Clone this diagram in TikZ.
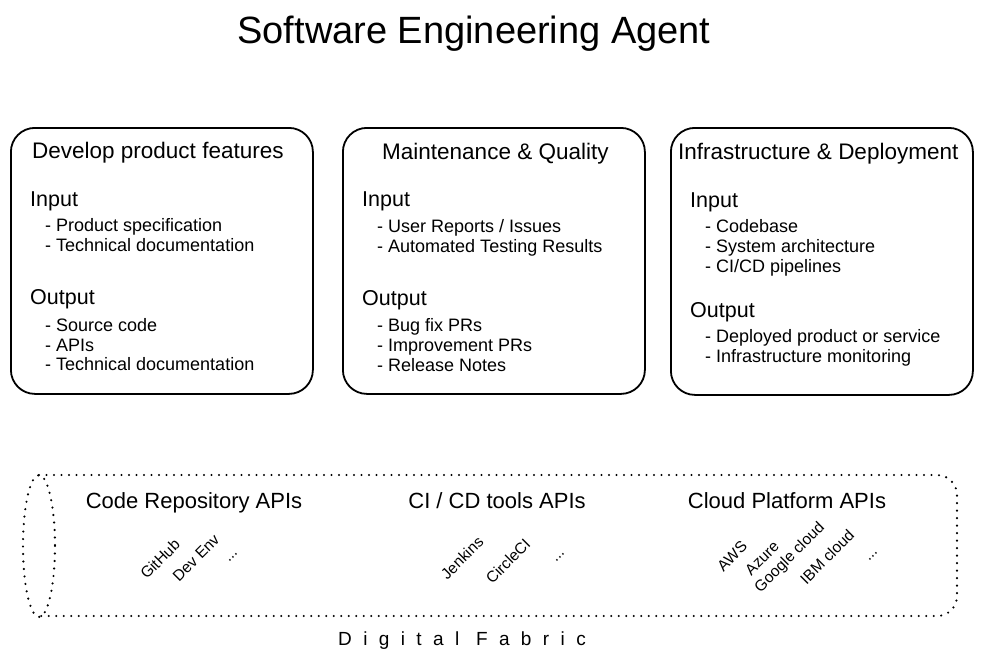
\documentclass[tikz,border=0pt]{standalone}
\usepackage{fontspec}
\setmainfont{Liberation Sans}
\begin{document}
\begin{tikzpicture}[x=1pt,y=-1pt,
  card/.style={draw, line width=1.8pt, rounded corners=24pt, minimum width=302pt, minimum height=266pt, anchor=north west, inner sep=0pt},
  maintitle/.style={anchor=base, font=\fontsize{38}{44}\selectfont, inner sep=0pt},
  cardtitle/.style={anchor=base west, font=\fontsize{22.5}{26}\selectfont, inner sep=0pt},
  head/.style={anchor=base west, font=\fontsize{21.5}{25}\selectfont, inner sep=0pt},
  item/.style={anchor=base west, font=\fontsize{18}{21}\selectfont, inner sep=0pt},
  api/.style={anchor=base, font=\fontsize{22}{26}\selectfont, inner sep=0pt},
  tool/.style={anchor=center, font=\fontsize{15.5}{18}\selectfont, inner sep=0pt, rotate=45},
  fabricline/.style={line width=2.4pt, dash pattern=on 0pt off 7.5pt, line cap=round},
  fabriclabel/.style={anchor=base, font=\fontsize{19}{22}\selectfont\addfontfeatures{LetterSpace=60}, inner sep=0pt}
]
\useasboundingbox (0,0) rectangle (982,662);

\node[maintitle] (title) at (474,43) {Software Engineering Agent};

% Card 1
\node[card] (c1) at (10,127) {};
\node[cardtitle] (c1t) at (32,158) {Develop product features};
\node[head] (c1in) at (30,206) {Input};
\node[item] (c1i1) at (45,231) {- Product specification};
\node[item] (c1i2) at (45,251) {- Technical documentation};
\node[head] (c1out) at (30,304) {Output};
\node[item] (c1o1) at (45,331) {- Source code};
\node[item] (c1o2) at (45,351) {- APIs};
\node[item] (c1o3) at (45,370) {- Technical documentation};

% Card 2
\node[card] (c2) at (342,127) {};
\node[cardtitle] (c2t) at (382,159) {Maintenance \& Quality};
\node[head] (c2in) at (362,206) {Input};
\node[item] (c2i1) at (377,232) {- User Reports / Issues};
\node[item] (c2i2) at (377,252) {- Automated Testing Results};
\node[head] (c2out) at (362,305) {Output};
\node[item] (c2o1) at (377,331) {- Bug fix PRs};
\node[item] (c2o2) at (377,351) {- Improvement PRs};
\node[item] (c2o3) at (377,371) {- Release Notes};

% Card 3
\node[card, minimum height=267pt] (c3) at (670,127) {};
\node[cardtitle] (c3t) at (678,159) {Infrastructure \& Deployment};
\node[head] (c3in) at (690,207) {Input};
\node[item] (c3i1) at (705,232) {- Codebase};
\node[item] (c3i2) at (705,252) {- System architecture};
\node[item] (c3i3) at (705,272) {- CI/CD pipelines};
\node[head] (c3out) at (690,317) {Output};
\node[item] (c3o1) at (705,342) {- Deployed product or service};
\node[item] (c3o2) at (705,362) {- Infrastructure monitoring};

% Digital fabric cylinder
\draw[fabricline] (39,546) ellipse [x radius=16, y radius=71];
\draw[fabricline, rounded corners=20pt] (39,475) -- (957,475) -- (957,616) -- (39,616);

\node[api] (a1) at (194,508) {Code Repository APIs};
\node[api] (a2) at (497,508) {CI / CD tools APIs};
\node[api] (a3) at (787,508) {Cloud Platform APIs};

\node[tool] (t1) at (160,559) {GitHub};
\node[tool] (t2) at (196,558) {Dev Env};
\node[tool] (t3) at (233,557) {...};
\node[tool] (t4) at (462,558) {Jenkins};
\node[tool] (t5) at (508,561) {CircleCI};
\node[tool] (t6) at (560,557) {...};
\node[tool] (t7) at (732,556) {AWS};
\node[tool] (t8) at (762,558) {Azure};
\node[tool] (t9) at (790,558) {Google cloud};
\node[tool] (t10) at (827,557) {IBM cloud};
\node[tool] (t11) at (873,556) {...};

\node[fabriclabel] (fab) at (462,645) {Digital Fabric};
\end{tikzpicture}
\end{document}
